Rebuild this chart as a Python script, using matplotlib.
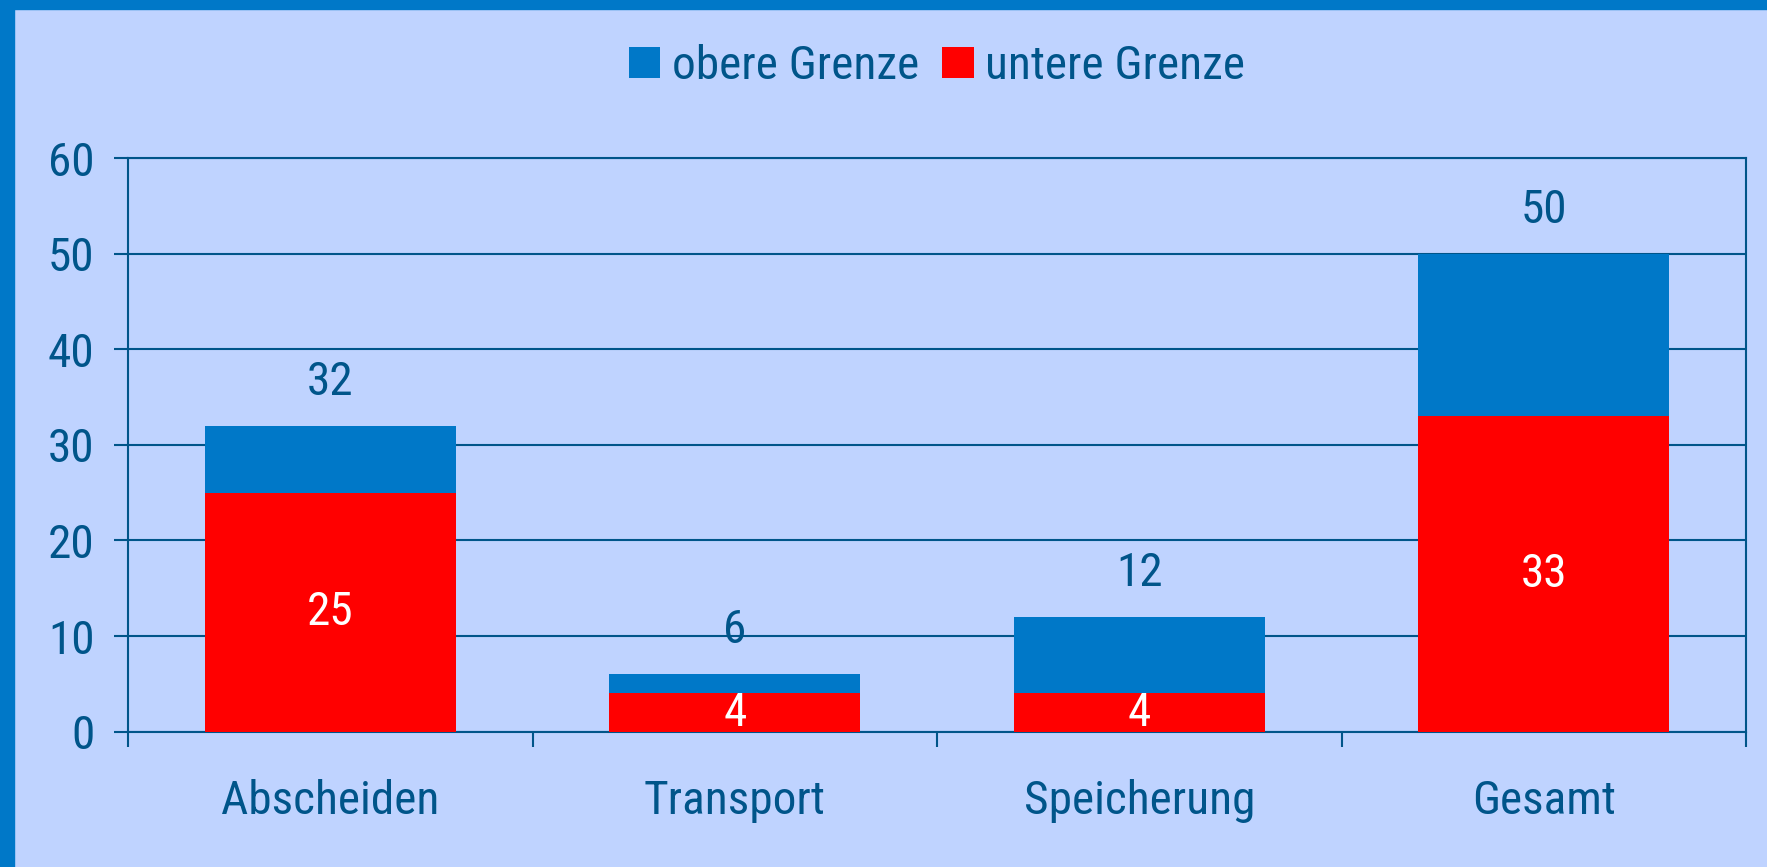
import matplotlib
matplotlib.use("Agg")
import matplotlib.pyplot as plt
from matplotlib.patches import Rectangle, Patch
import numpy as np

categories = ["Abscheiden", "Transport", "Speicherung", "Gesamt"]
lower = [25, 4, 4, 33]      # untere Grenze
upper = [32, 6, 12, 50]     # obere Grenze (total)

BG = "#BFD3FF"
BLUE = "#0078C8"
RED = "#FF0000"
TXT = "#00558A"
FONT = ["Liberation Sans Narrow", "Roboto Condensed", "DejaVu Sans"]
plt.rcParams["font.family"] = FONT

fig = plt.figure(figsize=(17.67, 8.67), dpi=100, facecolor=BG)
ax = fig.add_axes([128/1767, 1-731.7/867, (1746-128)/1767, (731.7-158)/867])
ax.set_facecolor(BG)

x = np.arange(len(categories))
diff = [u - l for u, l in zip(upper, lower)]
w = 0.62
ax.bar(x, lower, width=w, color=RED, zorder=3, label="untere Grenze")
ax.bar(x, diff, bottom=lower, width=w, color=BLUE, zorder=3, label="obere Grenze")

fs = 34
for xi, l, u in zip(x, lower, upper):
    ax.text(xi, l/2, str(l), ha="center", va="center", color="white", fontsize=fs, zorder=4)
    ax.text(xi, u + 4.6, str(u), ha="center", va="center", color=TXT, fontsize=fs, zorder=4)

ax.set_xlim(-0.5, len(categories)-0.5)
ax.set_ylim(0, 60)
ax.set_yticks(range(0, 61, 10))
ax.yaxis.grid(True, color=TXT, linewidth=1.5, zorder=1)
ax.set_axisbelow(True)
ax.set_xticks(x)
ax.set_xticklabels(categories)
ax.set_xticks(np.arange(-0.5, len(categories), 1.0), minor=True)
ax.tick_params(axis="x", which="major", length=0, pad=34, labelsize=fs, labelcolor=TXT)
ax.tick_params(axis="x", which="minor", length=11, width=1.5, color=TXT, direction="out")
ax.tick_params(axis="y", length=10, width=1.5, color=TXT, pad=14, labelsize=fs, labelcolor=TXT)
for s in ax.spines.values():
    s.set_color(TXT)
    s.set_linewidth(1.5)

handles = [Patch(facecolor=BLUE, label="obere Grenze"), Patch(facecolor=RED, label="untere Grenze")]
fig.legend(handles=handles, loc="center", bbox_to_anchor=(937/1767, 1-66/867), ncol=2,
           frameon=False, fontsize=fs, labelcolor=TXT, handlelength=0.66, handleheight=0.66,
           handletextpad=0.25, columnspacing=0.5)

fig.patches.append(Rectangle((0, 0), 14/1767, 1, transform=fig.transFigure, color=BLUE, zorder=10))
fig.patches.append(Rectangle((0, 1-9/867), 1, 9/867, transform=fig.transFigure, color=BLUE, zorder=10))

fig.savefig("out.png", dpi=100, facecolor=BG)
